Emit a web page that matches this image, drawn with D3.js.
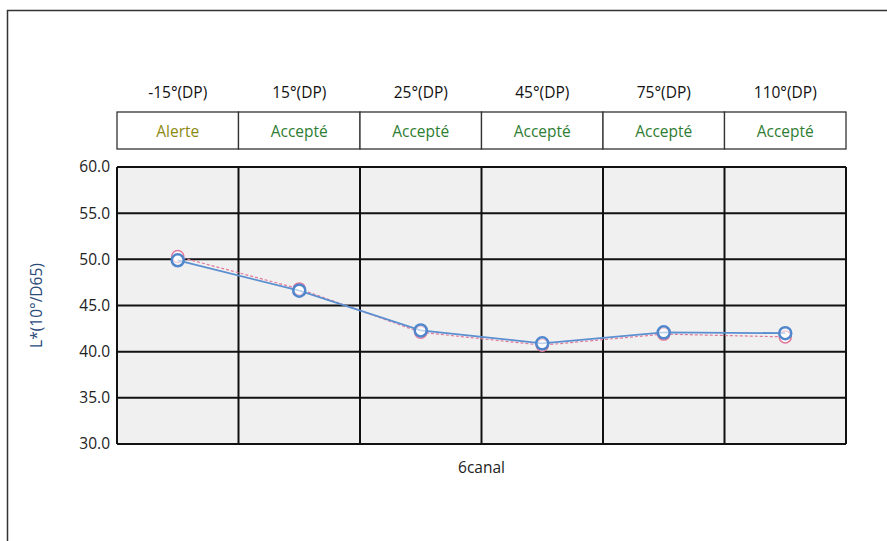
<!DOCTYPE html>
<html><head><meta charset="utf-8">
<script src="https://cdn.jsdelivr.net/npm/d3@7"></script>
<style>body{margin:0;background:#fff;} svg{display:block;}</style>
</head><body>
<svg id="c" width="887" height="541"></svg>
<script>
const categories = ["-15°(DP)", "15°(DP)", "25°(DP)", "45°(DP)", "75°(DP)", "110°(DP)"];
const statuses = ["Alerte", "Accepté", "Accepté", "Accepté", "Accepté", "Accepté"];
const measured = [49.9, 46.6, 42.3, 40.9, 42.1, 42.0];
const reference = [50.3, 46.8, 42.1, 40.7, 41.9, 41.6];
const yTicks = [30, 35, 40, 45, 50, 55, 60];
const yLabel = "L*(10°/D65)";
const xLabel = "6canal";

const svg = d3.select("#c");
const font = "'Open Sans', 'Noto Sans', sans-serif";
const fs = 15.5;
const L = 117, R = 846, T = 167, B = 444;
const hTop = 112, hBot = 149;

// outer frame
svg.append("path").attr("d", "M7.5,541 V10.5 H887").attr("fill","none").attr("stroke","#333").attr("stroke-width",1.5);

const x = d3.scaleBand().domain(categories).range([L, R]).padding(0);
const y = d3.scaleLinear().domain([30, 60]).range([B, T]);

// plot background
svg.append("rect").attr("x", L).attr("y", T).attr("width", R-L).attr("height", B-T).attr("fill", "#f0f0f0");

// header table
const hdr = svg.append("g");
hdr.selectAll("rect.h").data(categories).join("rect")
  .attr("x", d => x(d)).attr("y", hTop).attr("width", x.bandwidth()).attr("height", hBot-hTop)
  .attr("fill", "#fff").attr("stroke", "#333").attr("stroke-width", 1.3);
hdr.selectAll("text.cat").data(categories).join("text")
  .attr("x", d => x(d) + x.bandwidth()/2).attr("y", 98)
  .attr("text-anchor","middle").attr("font-family", font).attr("font-size", fs).attr("fill","#111")
  .text(d => d);
hdr.selectAll("text.st").data(statuses).join("text")
  .attr("x", (d,i) => x(categories[i]) + x.bandwidth()/2).attr("y", 137)
  .attr("text-anchor","middle").attr("font-family", font).attr("font-size", fs)
  .attr("fill", d => d === "Alerte" ? "#8c8a10" : "#2e7d32")
  .text(d => d);

// grid
const g = svg.append("g");
g.selectAll("line.hy").data(yTicks).join("line")
  .attr("x1", L).attr("x2", R).attr("y1", d => y(d)).attr("y2", d => y(d))
  .attr("stroke", "#111").attr("stroke-width", 2);
const xb = categories.map(c => x(c)).concat([R]);
g.selectAll("line.vx").data(xb).join("line")
  .attr("x1", d => d).attr("x2", d => d).attr("y1", T).attr("y2", B)
  .attr("stroke", "#111").attr("stroke-width", 2);

// y axis labels
const yAxis = d3.axisLeft(y).tickValues(yTicks).tickFormat(d3.format(".1f")).tickSize(0).tickPadding(7);
const ya = svg.append("g").attr("transform", `translate(${L},0)`).call(yAxis);
ya.select(".domain").remove();
ya.selectAll("text").attr("font-family", font).attr("font-size", fs).attr("fill", "#222");

svg.append("text").attr("transform", `translate(42,${(T+B)/2}) rotate(-90)`)
  .attr("text-anchor","middle").attr("font-family", font).attr("font-size", fs).attr("fill", "#2a4a78")
  .text(yLabel);
svg.append("text").attr("x", (L+R)/2).attr("y", 473).attr("text-anchor","middle")
  .attr("font-family", font).attr("font-size", fs).attr("fill", "#222").text(xLabel);

const cx = c => x(c) + x.bandwidth()/2;
const line = d3.line().x((d,i) => cx(categories[i])).y(d => y(d));

// reference series (pink dashed)
svg.append("path").datum(reference).attr("d", line).attr("fill","none")
  .attr("stroke", "#e07a9a").attr("stroke-width", 1.2).attr("stroke-dasharray", "3,2");
svg.selectAll("circle.ref").data(reference).join("circle")
  .attr("cx", (d,i) => cx(categories[i])).attr("cy", d => y(d)).attr("r", 6)
  .attr("fill","#fff").attr("stroke","#e07a9a").attr("stroke-width", 1.5);

// measured series (blue)
svg.append("path").datum(measured).attr("d", line).attr("fill","none")
  .attr("stroke", "#5b8fd0").attr("stroke-width", 1.8);
svg.selectAll("circle.m").data(measured).join("circle")
  .attr("cx", (d,i) => cx(categories[i])).attr("cy", d => y(d)).attr("r", 6)
  .attr("fill","#fff").attr("fill-opacity", 0.6).attr("stroke","#4f86cc").attr("stroke-width", 2.5);
</script>
</body></html>
